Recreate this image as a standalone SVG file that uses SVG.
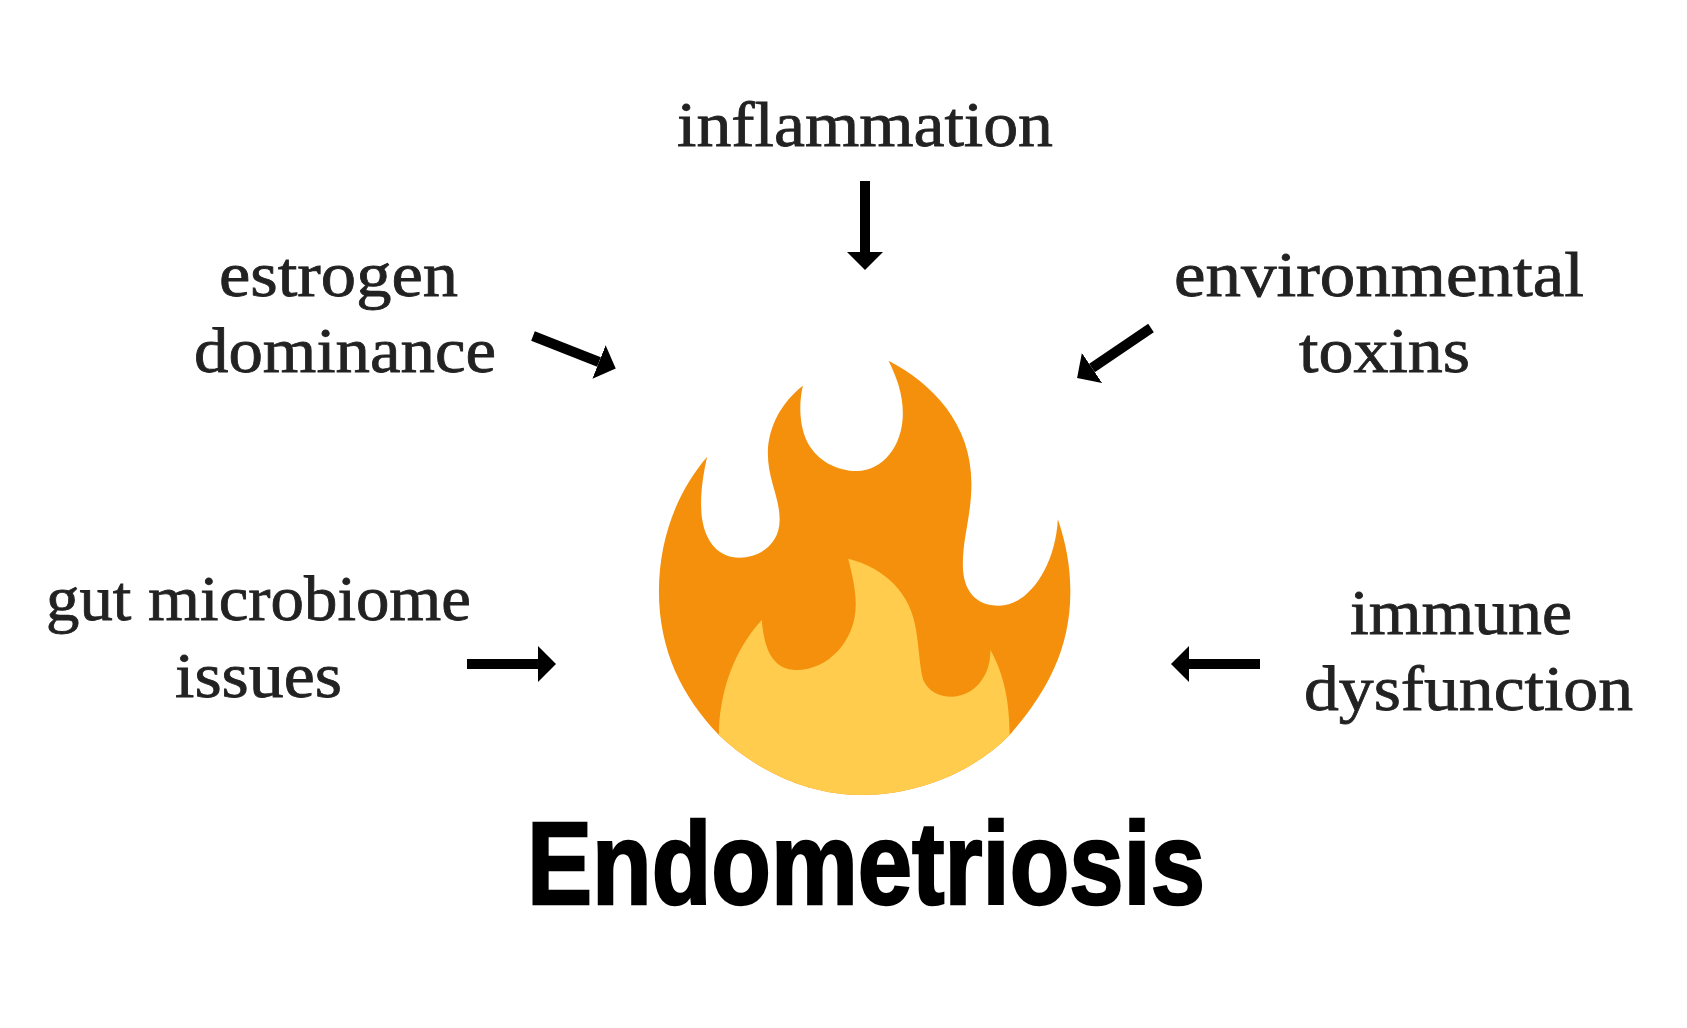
<svg xmlns="http://www.w3.org/2000/svg" width="1687" height="1028" viewBox="0 0 1687 1028">
<defs>
<marker id="head" markerUnits="userSpaceOnUse" markerWidth="18" markerHeight="36" viewBox="0 0 18 36" refX="0" refY="18" orient="auto"><path d="M0,0L18,18L0,36Z" fill="#000"/></marker>
</defs>
<style>
.lbl{font-family:"Liberation Serif",serif;font-size:64px;fill:#222;stroke:#222;stroke-width:.8px}
.ttl{font-family:"Liberation Sans",Arial,sans-serif;font-weight:700;font-size:116px;fill:#000;stroke:#000;stroke-width:2.5px}
.arr{stroke:#000;stroke-width:10;fill:none;marker-end:url(#head)}
</style>
<rect width="1687" height="1028" fill="#fff"/>
<g id="flame" transform="translate(600,320) scale(.35714,.33333)">
<path fill="#f4900c" d="M808,122C930,190 1040,310 1040,490C1040,590 1015,650 1016,740C1018,810 1050,857 1118,857C1200,857 1275,740 1282,598C1305,670 1317,740 1317,815C1317,1000 1240,1130 1147,1245C1050,1350 900,1425 730,1425C575,1425 430,1345 333,1245C230,1130 165,990 165,815C165,650 220,510 300,410C285,480 280,540 285,590C295,670 335,713 390,713C450,713 503,670 503,600C503,530 470,480 470,400C470,320 510,245 568,197C555,260 560,320 580,365C610,425 665,453 720,453C790,453 848,380 848,280C848,220 830,170 808,122Z"/>
<path fill="#ffcc4d" d="M695,716C800,745 870,820 885,930C895,1000 895,1040 905,1080C920,1115 950,1130 985,1130C1040,1130 1095,1075 1093,990C1125,1050 1147,1130 1147,1245C1050,1350 900,1425 730,1425C575,1425 430,1345 333,1245C333,1120 375,990 453,900C460,1000 490,1050 550,1050C640,1050 718,960 716,850C716,805 705,760 695,716Z"/>
</g>
<g id="connectors">
<line class="arr" x1="865" y1="181" x2="865" y2="252"/>
<line class="arr" x1="533" y1="336" x2="599" y2="362"/>
<line class="arr" x1="1151" y1="328" x2="1092" y2="368"/>
<line class="arr" x1="467" y1="664" x2="538" y2="664"/>
<line class="arr" x1="1260" y1="664" x2="1189" y2="664"/>
</g>
<g id="node-inflammation"><text class="lbl" x="677" y="146" textLength="376" lengthAdjust="spacingAndGlyphs">inflammation</text></g>
<g id="node-estrogen"><text class="lbl" x="219" y="296" textLength="239" lengthAdjust="spacingAndGlyphs">estrogen</text><text class="lbl" x="194" y="372" textLength="302" lengthAdjust="spacingAndGlyphs">dominance</text></g>
<g id="node-environmental"><text class="lbl" x="1174" y="296" textLength="410" lengthAdjust="spacingAndGlyphs">environmental</text><text class="lbl" x="1299" y="372" textLength="171" lengthAdjust="spacingAndGlyphs">toxins</text></g>
<g id="node-gut"><text class="lbl" x="46" y="620" textLength="425" lengthAdjust="spacingAndGlyphs">gut microbiome</text><text class="lbl" x="175" y="697" textLength="167" lengthAdjust="spacingAndGlyphs">issues</text></g>
<g id="node-immune"><text class="lbl" x="1350" y="634" textLength="222" lengthAdjust="spacingAndGlyphs">immune</text><text class="lbl" x="1304" y="710" textLength="329" lengthAdjust="spacingAndGlyphs">dysfunction</text></g>
<g id="node-endometriosis"><text class="ttl" x="527" y="904" textLength="678" lengthAdjust="spacingAndGlyphs">Endometriosis</text></g>
</svg>
